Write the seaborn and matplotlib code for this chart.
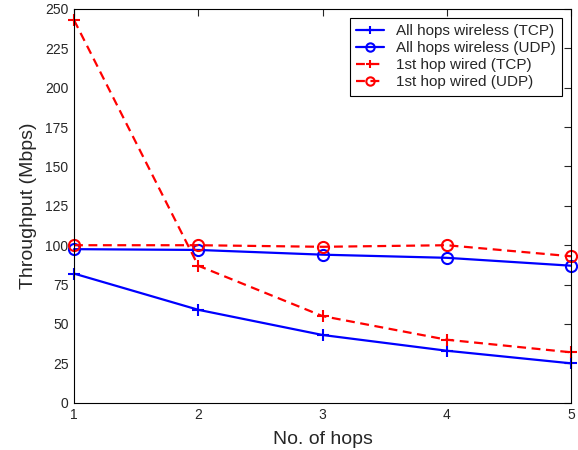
import matplotlib
matplotlib.use("Agg")
import matplotlib.pyplot as plt
import seaborn as sns
import pandas as pd

hops = [1, 2, 3, 4, 5]
wireless_tcp = [82, 59, 43, 33, 25]
wireless_udp = [97.5, 97, 94, 92, 87]
wired_tcp = [243, 87, 55, 40, 32]
wired_udp = [100, 100, 99, 100, 93]
series_names = ["All hops wireless (TCP)", "All hops wireless (UDP)",
                "1st hop wired (TCP)", "1st hop wired (UDP)"]

sns.set_style("white")
plt.rcParams['font.family'] = ['Liberation Sans', 'DejaVu Sans']

fig = plt.figure(figsize=(5.78, 4.5), dpi=100)
ax = fig.add_axes([74/578, 1 - 402.7/450, (571-74)/578, (402.7-9)/450])

styles = [
    dict(color="blue", ls="-", marker="+"),
    dict(color="blue", ls="-", marker="o"),
    dict(color="red", ls=(0, (4, 2.5)), marker="+"),
    dict(color="red", ls=(0, (4, 2.5)), marker="o"),
]
for name, vals, st in zip(series_names, [wireless_tcp, wireless_udp, wired_tcp, wired_udp], styles):
    df = pd.DataFrame({"hops": hops, "thr": vals})
    n0 = len(ax.lines)
    sns.lineplot(data=df, x="hops", y="thr", ax=ax, color=st["color"], linewidth=1.6)
    ln = ax.lines[n0]
    ln.set_linestyle(st["ls"])
    ln.set_marker(st["marker"])
    ln.set_markersize(8)
    ln.set_markeredgewidth(1.5)
    ln.set_markeredgecolor(st["color"])
    ln.set_markerfacecolor("none")
    ln.set_label(name)
    ln.set_clip_on(False)

ax.set_xlim(1, 5)
ax.set_ylim(0, 250)
ax.set_xticks([1, 2, 3, 4, 5])
ax.set_yticks(range(0, 251, 25))
ax.tick_params(direction="in", top=True, right=True, length=5, labelsize=10, width=0.8, pad=4)
for s in ax.spines.values():
    s.set_visible(True)
    s.set_color("black")
    s.set_linewidth(0.8)
ax.set_xlabel("No. of hops", fontsize=14, labelpad=6)
ax.set_ylabel("Throughput (Mbps)", fontsize=14, labelpad=6)
leg = ax.legend(loc="upper right", fontsize=11, frameon=True, fancybox=False,
                edgecolor="black", framealpha=1, handlelength=1.8, markerscale=0.75,
                borderaxespad=0.6, labelspacing=0.2)
leg.get_frame().set_linewidth(0.8)

fig.savefig("out.png", dpi=100)
